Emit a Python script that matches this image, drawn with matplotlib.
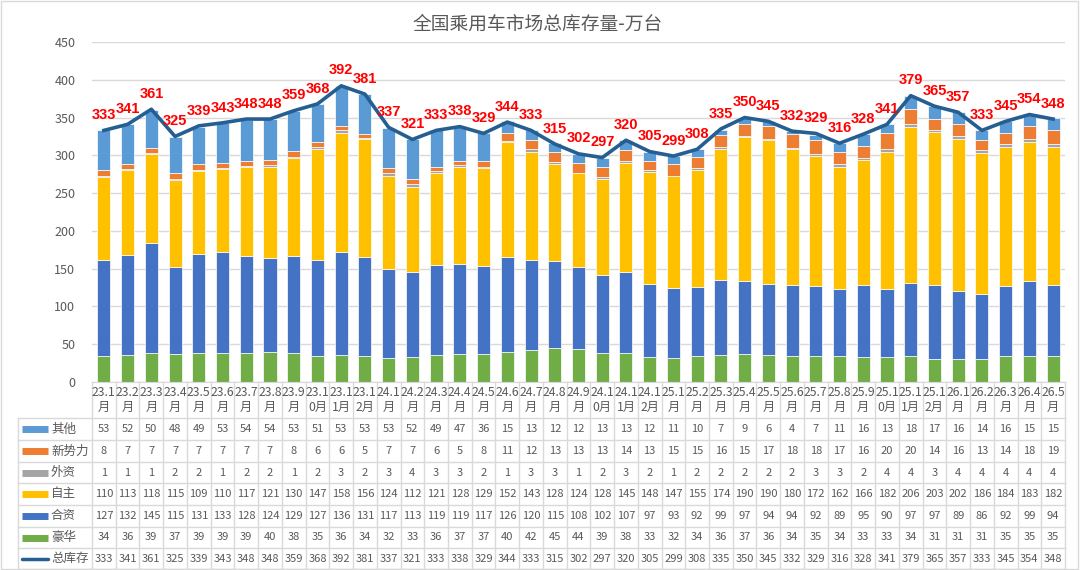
import matplotlib.pyplot as plt
import numpy as np

plt.rcParams['font.family'] = ['Noto Sans CJK SC', 'DejaVu Sans']

#-----data (万台)------------------------------------------------------------
months = ['23.1', '23.2', '23.3', '23.4', '23.5', '23.6', '23.7', '23.8', '23.9', '23.10', '23.11', '23.12',
          '24.1', '24.2', '24.3', '24.4', '24.5', '24.6', '24.7', '24.8', '24.9', '24.10', '24.11', '24.12',
          '25.1', '25.2', '25.3', '25.4', '25.5', '25.6', '25.7', '25.8', '25.9', '25.10', '25.11', '25.12',
          '26.1', '26.2', '26.3', '26.4', '26.5']
other = [53, 52, 50, 48, 49, 53, 54, 54, 53, 51, 53, 53, 53, 52, 49, 47, 36, 15, 13, 12, 12, 13, 13, 12,
         11, 10, 7, 9, 6, 4, 7, 11, 16, 13, 18, 17, 16, 14, 16, 15, 15]
new_force = [8, 7, 7, 7, 7, 7, 7, 7, 8, 6, 6, 5, 7, 7, 6, 5, 8, 11, 12, 13, 13, 13, 14, 13,
             15, 15, 16, 15, 17, 18, 18, 17, 16, 20, 20, 14, 16, 13, 14, 18, 19]
foreign = [1, 1, 1, 2, 2, 1, 2, 2, 1, 2, 3, 2, 3, 4, 3, 3, 2, 1, 3, 3, 1, 2, 3, 2,
           1, 2, 2, 2, 2, 2, 3, 3, 2, 4, 4, 3, 4, 4, 4, 4, 4]
domestic = [110, 113, 118, 115, 109, 110, 117, 121, 130, 147, 158, 156, 124, 112, 121, 128, 129, 152, 143, 128, 124, 128, 145, 148,
            147, 155, 174, 190, 190, 180, 172, 162, 166, 182, 206, 203, 202, 186, 184, 183, 182]
joint = [127, 132, 145, 115, 131, 133, 128, 124, 129, 127, 136, 131, 117, 113, 119, 119, 117, 126, 120, 115, 108, 102, 107, 97,
         93, 92, 99, 97, 94, 94, 92, 89, 95, 90, 97, 97, 89, 86, 92, 99, 94]
luxury = [34, 36, 39, 37, 39, 39, 39, 40, 38, 35, 36, 34, 32, 33, 36, 37, 37, 40, 42, 45, 44, 39, 38, 33,
          32, 34, 36, 37, 36, 34, 35, 34, 33, 33, 34, 31, 31, 31, 35, 35, 35]
total = [333, 341, 361, 325, 339, 343, 348, 348, 359, 368, 392, 381, 337, 321, 333, 338, 329, 344, 333, 315, 302, 297, 320, 305,
         299, 308, 335, 350, 345, 332, 329, 316, 328, 341, 379, 365, 357, 333, 345, 354, 348]

# stacking order, bottom first
stack = [('豪华', luxury, '#70AD47'), ('合资', joint, '#4472C4'), ('自主', domestic, '#FFC000'),
         ('外资', foreign, '#A5A5A5'), ('新势力', new_force, '#ED7D31'), ('其他', other, '#5B9BD5')]
line_color = '#255E91'
txt = '#595959'
grid = '#D9D9D9'

W, H = 1080, 570
def rect(x0, y0, x1, y1):
    return [x0 / W, 1 - y1 / H, (x1 - x0) / W, (y1 - y0) / H]

fig = plt.figure(figsize=(10.8, 5.7), dpi=100)
n = len(months)
x = np.arange(n)

#-----main chart-------------------------------------------------------------
ax = fig.add_axes(rect(92, 42, 1065, 382))
bottom = np.zeros(n)
for name, vals, c in stack:
    ax.bar(x, vals, 0.55, bottom=bottom, color=c, edgecolor='white', linewidth=0.5, zorder=2)
    bottom += np.array(vals)
ax.plot(x, total, color=line_color, lw=2.6, zorder=3)
for xi, t in zip(x, total):
    ax.annotate(str(t), (xi, t), xytext=(0, 6), textcoords='offset points', ha='center', va='bottom',
                color='red', fontweight='bold', fontsize=10.5, family=['Liberation Sans', 'DejaVu Sans'], zorder=4)

ax.set_xlim(-0.5, n - 0.5)
ax.set_ylim(0, 450)
ax.set_yticks(range(0, 451, 50))
ax.set_xticks([])
ax.yaxis.grid(True, color=grid, lw=1)
ax.set_axisbelow(True)
for s in ['top', 'right', 'left']:
    ax.spines[s].set_visible(False)
ax.spines['bottom'].set_color(grid)
ax.tick_params(axis='y', length=0, labelsize=9, labelcolor=txt, pad=12)

fig.text(538 / W, 1 - 24 / H, '全国乘用车市场总库存量-万台', ha='center', va='center', fontsize=13.5, color=txt)

#-----data table-------------------------------------------------------------
ys = [382, 418, 440, 462, 483, 505, 527, 548, 569]
rows = [('其他', other, '#5B9BD5'), ('新势力', new_force, '#ED7D31'), ('外资', foreign, '#A5A5A5'),
        ('自主', domestic, '#FFC000'), ('合资', joint, '#4472C4'), ('豪华', luxury, '#70AD47'),
        ('总库存', total, line_color)]

at = fig.add_axes(rect(92, 382, 1065, 569))
at.set_xlim(-0.5, n - 0.5)
at.set_ylim(569, 382)
at.axis('off')
for i in range(n + 1):
    at.plot([i - 0.5, i - 0.5], [382, 568.5], color=grid, lw=1, clip_on=False)
for y in ys[1:]:
    at.plot([-0.5, n - 0.5], [y, y], color=grid, lw=1, clip_on=False)
for i, m in enumerate(months):
    s = m + '月'
    at.text(i, 400, s[:4] + '\n' + s[4:], ha='center', va='center', fontsize=8.8, color=txt, linespacing=1.15)
    for r, (name, vals, c) in enumerate(rows):
        at.text(i, (ys[r + 1] + ys[r + 2]) / 2, str(vals[i]), ha='center', va='center', fontsize=8, color=txt)

al = fig.add_axes(rect(17, 382, 92, 569))
al.set_xlim(17, 92)
al.set_ylim(569, 382)
al.axis('off')
al.plot([17.5, 17.5], [418, 568.5], color=grid, lw=1, clip_on=False)
for y in ys[1:]:
    al.plot([17.5, 92], [y, y], color=grid, lw=1, clip_on=False)
for r, (name, vals, c) in enumerate(rows):
    yc = (ys[r + 1] + ys[r + 2]) / 2
    if name == '总库存':
        al.plot([22, 48], [yc, yc], color=c, lw=2.5, solid_capstyle='round')
    else:
        al.plot([22, 48], [yc, yc], color=c, lw=5, solid_capstyle='butt')
    al.text(51, yc, name, ha='left', va='center', fontsize=9, color=txt)

fig.add_artist(plt.Rectangle((0.001, 0.002), 0.997, 0.996, transform=fig.transFigure, fill=False, ec=grid, lw=1))

fig.savefig('out.png', dpi=100)
